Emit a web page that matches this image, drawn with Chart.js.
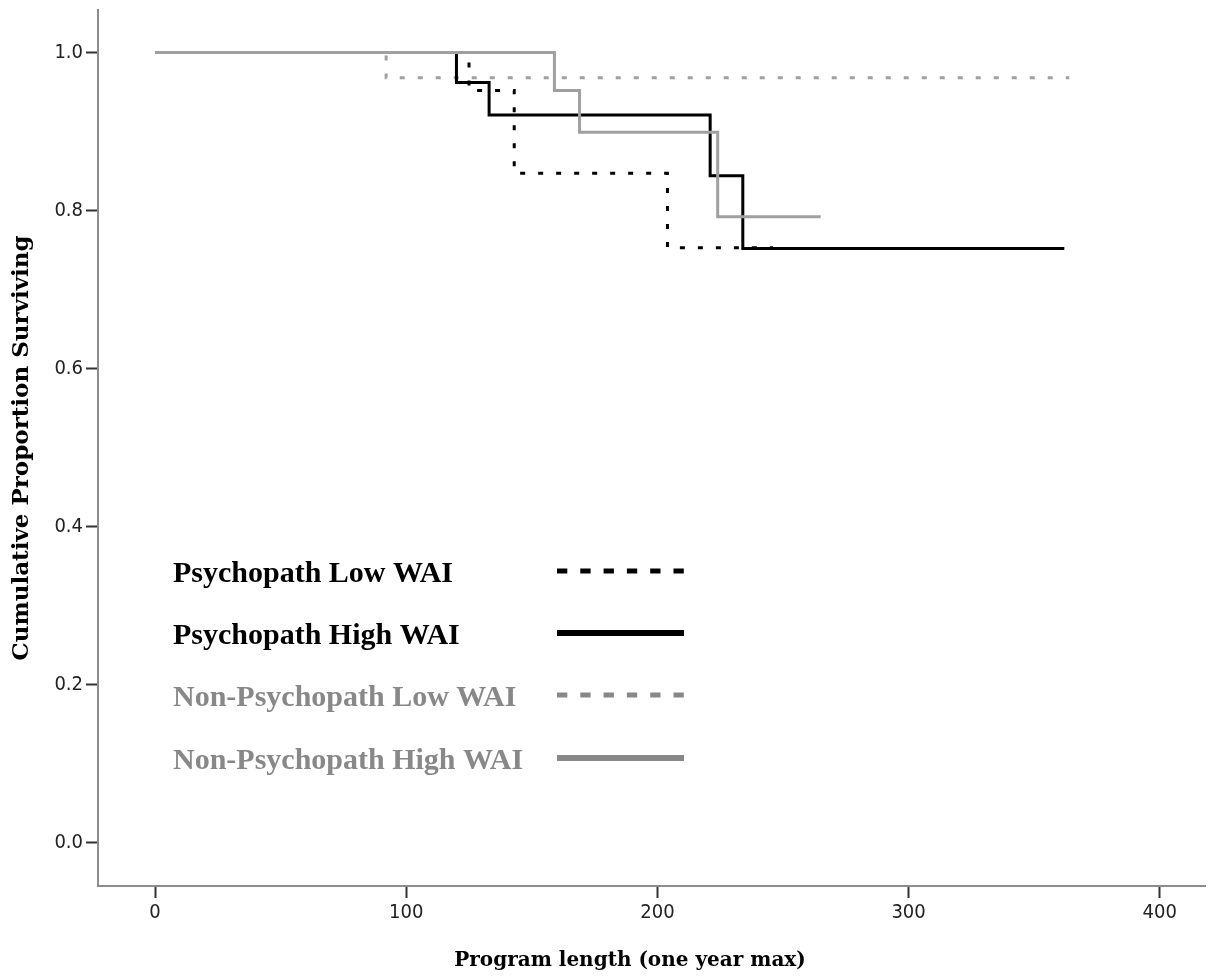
<!DOCTYPE html>
<html>
<head>
<meta charset="utf-8">
<script src="https://cdn.jsdelivr.net/npm/chart.js@4/dist/chart.umd.min.js"></script>
<style>
  html, body { margin: 0; padding: 0; background: #fff; }
  #wrap { width: 1217px; height: 977px; }
</style>
</head>
<body>
<div id="wrap"><canvas id="myChart" width="1217" height="977"></canvas></div>
<script>
// survival curves (time, cumulative proportion)
const psyLowT = [0, 125, 143, 204, 246];
const psyLowS = [1.0, 0.952, 0.847, 0.753, 0.753];
const psyHighT = [0, 120, 133, 221, 234, 362];
const psyHighS = [1.0, 0.962, 0.921, 0.844, 0.752, 0.752];
const nonLowT = [0, 92, 364];
const nonLowS = [1.0, 0.968, 0.968];
const nonHighT = [0, 159, 169, 224, 265];
const nonHighS = [1.0, 0.952, 0.899, 0.792, 0.792];

const xTicks = [0, 100, 200, 300, 400];
const yTicks = [0.0, 0.2, 0.4, 0.6, 0.8, 1.0];

const labels = ['Psychopath Low WAI', 'Psychopath High WAI', 'Non-Psychopath Low WAI', 'Non-Psychopath High WAI'];
const xTitle = 'Program length (one year max)';
const yTitle = 'Cumulative Proportion Surviving';

const toPoints = (t, s) => t.map((v, i) => ({ x: v, y: s[i] }));

const main = () => {
  const BLACK = '#000000';
  const GREY_LINE = '#a0a0a0';
  const GREY_TEXT = '#888888';

  const times = "'Liberation Serif', 'Times New Roman', serif";
  const slab = "'DejaVu Serif', serif";
  const tickFont = { family: "'DejaVu Sans Condensed', 'DejaVu Sans', sans-serif", size: 20 };

  const line = (label, pts, color, dash, order) => ({
    label,
    data: pts,
    borderColor: color,
    borderWidth: 3,
    borderDash: dash,
    borderCapStyle: 'butt',
    stepped: true,
    pointRadius: 0,
    fill: false,
    order,
  });

  // hand made legend inside the plot, like the SPSS figure
  const legendRows = [
    { text: labels[0], color: BLACK, dash: [10.3, 13], w: 5 },
    { text: labels[1], color: BLACK, dash: [], w: 6 },
    { text: labels[2], color: GREY_TEXT, dash: [10.3, 13], w: 5 },
    { text: labels[3], color: GREY_TEXT, dash: [], w: 6 },
  ];
  const insideLegend = {
    id: 'insideLegend',
    afterDraw(chart) {
      const { ctx, chartArea } = chart;
      const x0 = chartArea.left + 75;
      const lx0 = chartArea.left + 459;
      const lx1 = chartArea.left + 586;
      const rowY = [571, 633, 695, 758];
      ctx.save();
      ctx.font = 'bold 30px ' + times;
      ctx.textBaseline = 'alphabetic';
      legendRows.forEach((r, i) => {
        const y = rowY[i];
        ctx.fillStyle = r.color;
        ctx.fillText(r.text, x0, y + 11);
        ctx.strokeStyle = r.color;
        ctx.lineWidth = r.w;
        ctx.setLineDash(r.dash);
        ctx.beginPath();
        ctx.moveTo(lx0, y);
        ctx.lineTo(lx1, y);
        ctx.stroke();
      });
      // x axis title, centred a bit left of the plot centre as in the original
      ctx.setLineDash([]);
      ctx.fillStyle = '#000';
      ctx.font = 'bold 20px ' + slab;
      ctx.textAlign = 'center';
      ctx.fillText(xTitle, 630, 966);
      ctx.restore();
    },
  };

  const ctx = document.getElementById('myChart').getContext('2d');
  const config = {
    type: 'line',
    data: {
      datasets: [
        line(labels[3], toPoints(nonHighT, nonHighS), GREY_LINE, [], 1),
        line(labels[1], toPoints(psyHighT, psyHighS), BLACK, [], 2),
        line(labels[0], toPoints(psyLowT, psyLowS), BLACK, [5, 13], 3),
        line(labels[2], toPoints(nonLowT, nonLowS), GREY_LINE, [5, 13], 4),
      ],
    },
    options: {
      responsive: false,
      animation: false,
      layout: { padding: { top: 10, right: 12, left: 0, bottom: 0 } },
      plugins: {
        legend: { display: false },
        tooltip: { enabled: false },
      },
      scales: {
        x: {
          type: 'linear',
          min: -22.7,
          max: 418,
          afterFit: (s) => { s.height = 91; s.paddingLeft = 0; s.paddingRight = 0; },
          afterBuildTicks: (s) => { s.ticks = xTicks.map((v) => ({ value: v })); },
          border: { display: true, color: '#8c8c8c', width: 2 },
          grid: { drawOnChartArea: false, drawTicks: true, tickLength: 12, tickColor: '#333', tickWidth: 2 },
          ticks: { color: '#222', font: tickFont, padding: 3, maxRotation: 0 },
        },
        y: {
          type: 'linear',
          min: -0.055063,
          max: 1.053797,
          afterFit: (s) => { s.width = 98; s.paddingTop = 0; s.paddingBottom = 0; },
          afterBuildTicks: (s) => { s.ticks = yTicks.map((v) => ({ value: v })); },
          border: { display: true, color: '#8c8c8c', width: 2 },
          grid: { drawOnChartArea: false, drawTicks: true, tickLength: 12, tickColor: '#333', tickWidth: 2 },
          ticks: { color: '#222', font: tickFont, padding: 3, callback: (v) => Number(v).toFixed(1) },
          title: {
            display: true,
            text: yTitle,
            color: '#000',
            font: { family: slab, size: 23, weight: 'bold' },
            padding: { top: 8, bottom: 0 },
          },
        },
      },
    },
    plugins: [insideLegend],
  };
  let myChart = new Chart(ctx, config);
};

main();
</script>
</body>
</html>
